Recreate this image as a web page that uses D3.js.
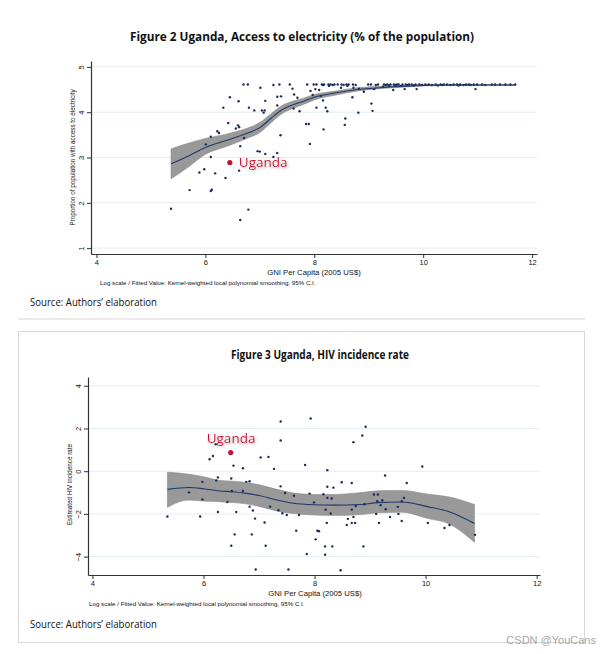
<!DOCTYPE html>
<html>
<head>
<meta charset="utf-8">
<script src="https://cdn.jsdelivr.net/npm/d3@7"></script>
<style>
  body { margin: 0; background: #fff; }
</style>
</head>
<body>
<svg id="chart" width="611" height="654" font-family="'Liberation Sans', Arial, sans-serif"></svg>
<script>
// ---- Figure 2: access to electricity (log) vs log GNI per capita ----
const elecX = [5.37,5.71,5.89,5.98,6.01,6.10,6.10,6.10,6.12,6.18,6.22,6.25,6.33,6.37,6.42,6.45,6.56,6.60,6.62,6.61,6.62,6.64,6.64,6.70,6.78,6.71,6.79,6.80,6.90,6.96,7.00,7.01,7.04,7.09,7.07,7.10,7.10,7.25,7.25,7.32,7.32,7.32,7.36,7.38,7.39,7.55,7.60,7.63,7.62,7.69,7.73,7.85,7.90,7.92,7.87,7.99,7.93,8.02,8.04,
  7.97,8.09,8.12,8.16,8.21,8.24,8.17,8.49,8.57,8.56,8.70,8.72,8.81,8.82,8.91,9.05,9.07,9.10,9.26,9.45,9.66,9.88,10.96,
  8.04,8.14,8.16,8.18,8.26,8.27,8.30,8.34,8.37,8.43,8.50,8.54,8.59,8.61,8.63,8.71,8.76,8.99,9.04,9.13,9.17,9.28,9.31,9.34,9.37,9.40,9.46,9.49,9.52,9.55,9.59,9.62,9.68,9.71,9.74,9.79,9.83,9.86,9.93,9.98,10.04,10.10,10.16,10.23,10.27,10.32,10.35,10.38,10.44,10.50,10.56,10.62,10.65,10.68,10.74,10.79,10.84,10.87,10.93,10.99,11.08,11.14,11.26,11.32,11.41,11.51,11.60,11.69];
const elecY = [1.87,2.28,2.67,2.74,3.29,3.46,3.01,2.26,2.29,2.65,3.58,3.54,4.10,2.55,3.76,4.33,3.64,3.71,3.67,4.24,2.71,3.25,1.62,4.61,4.61,3.43,1.85,4.10,4.04,3.14,3.13,4.54,4.04,4.04,3.99,3.08,4.25,3.01,4.60,4.34,4.15,3.10,4.61,3.49,4.35,4.61,4.52,4.39,4.08,4.32,4.02,3.74,3.74,3.30,4.61,4.61,4.47,4.51,4.10,
  4.38,4.49,4.36,4.26,4.10,4.02,3.62,4.54,3.86,3.72,4.33,4.54,3.99,4.52,4.45,4.19,4.03,4.51,4.56,4.49,4.51,4.51,4.51,
  4.61,4.61,4.60,4.61,4.61,4.58,4.61,4.60,4.61,4.61,4.61,4.60,4.61,4.58,4.61,4.61,4.60,4.61,4.61,4.60,4.61,4.61,4.60,4.61,4.59,4.61,4.61,4.60,4.61,4.61,4.58,4.61,4.61,4.60,4.61,4.61,4.59,4.61,4.61,4.60,4.61,4.61,4.60,4.61,4.59,4.61,4.60,4.61,4.61,4.60,4.61,4.61,4.59,4.61,4.60,4.61,4.61,4.60,4.61,4.61,4.61,4.60,4.61,4.61,4.61,4.61,4.61,4.61];
const elecFitX = [5.37,5.7,6.0,6.4,6.8,7.0,7.2,7.4,7.6,7.8,8.0,8.4,8.8,9.2,9.6,10.0,10.5,11.0,11.69];
const elecFit  = [2.86,3.04,3.22,3.38,3.55,3.66,3.86,4.05,4.16,4.24,4.33,4.43,4.50,4.54,4.57,4.59,4.60,4.60,4.60];
const elecLo   = [2.53,2.80,3.07,3.25,3.44,3.55,3.76,3.96,4.08,4.17,4.27,4.38,4.47,4.52,4.55,4.58,4.59,4.59,4.59];
const elecHi   = [3.19,3.32,3.42,3.52,3.66,3.77,3.96,4.14,4.24,4.31,4.39,4.47,4.54,4.57,4.59,4.61,4.61,4.61,4.61];
const elecYTicks = [1, 2, 3, 4, 5];
const ugandaElec = [6.45, 2.89];

// ---- Figure 3: HIV incidence rate (log) vs log GNI per capita ----
const hivX = [5.35,5.74,5.94,5.98,5.98,6.11,6.17,6.22,6.23,6.26,6.26,6.43,6.50,6.51,6.50,6.54,6.56,6.59,6.71,6.71,6.77,6.83,6.83,6.87,6.89,6.93,6.94,7.03,7.10,7.12,7.17,7.20,7.27,7.35,7.39,7.39,7.39,7.42,7.47,7.50,7.53,7.63,7.67,7.72,7.83,7.86,7.91,7.93,7.99,8.05,8.02,
  8.23,8.23,8.23,8.31,8.34,8.16,8.20,8.29,8.22,8.08,8.19,8.32,8.19,8.47,8.49,8.67,8.70,8.86,8.92,8.74,8.67,8.70,8.73,8.67,8.60,8.58,8.88,8.90,9.07,9.14,9.13,9.22,9.19,9.27,9.28,9.11,9.16,9.36,9.50,9.51,9.57,9.57,9.61,9.66,9.94,10.04,10.34,10.43,10.89];
const hivY = [-2.12,-0.99,-2.12,-0.50,-1.32,0.56,0.71,1.26,-0.43,-0.29,-1.91,-1.44,-0.34,-0.93,-3.49,0.26,-2.96,-1.91,0.14,-0.93,-0.50,-0.47,-1.66,-2.96,-1.84,-2.22,-4.60,0.64,-2.40,-3.49,0.67,-1.66,0.11,-1.83,2.33,1.44,-0.71,-1.97,-1.02,-2.05,-4.60,-1.15,-2.79,-2.05,0.29,-3.88,-1.05,2.47,-1.46,-2.79,-3.19,
  0.05,-0.73,-1.25,-1.28,-0.77,-1.08,-1.80,-1.98,-2.42,-2.81,-3.52,-3.52,-3.91,-4.64,-0.52,-0.55,1.36,1.67,2.08,-1.63,-1.80,-2.14,-2.42,-2.42,-2.23,-2.52,-3.52,-1.55,-1.09,-1.09,-1.41,-1.36,-1.59,-0.20,-1.78,-2.00,-2.42,-2.14,-1.67,-2.00,-2.33,-1.41,-1.25,-0.55,0.22,-2.42,-2.66,-2.52,-2.98];
const hivFitX = [5.35,5.74,6.0,6.29,6.53,6.77,7.02,7.32,7.62,7.98,8.36,8.84,9.14,9.57,10.05,10.41,10.88];
const hivFit  = [-0.85,-0.76,-0.82,-0.93,-0.96,-1.04,-1.15,-1.35,-1.50,-1.57,-1.59,-1.56,-1.47,-1.44,-1.67,-1.89,-2.45];
const hivLo   = [-1.69,-1.35,-1.40,-1.43,-1.47,-1.53,-1.66,-1.86,-1.98,-2.05,-2.07,-2.03,-1.95,-1.92,-2.22,-2.45,-3.33];
const hivHi   = [-0.05,-0.14,-0.26,-0.43,-0.47,-0.53,-0.65,-0.85,-1.02,-1.09,-1.09,-1.00,-0.92,-0.90,-1.08,-1.20,-1.56];
const hivYTicks = [-4, -2, 0, 2, 4];
const ugandaHiv = [6.49, 0.87];

const xTicks = [4, 6, 8, 10, 12];

const svg = d3.select("#chart");
svg.append("rect").attr("width", 611).attr("height", 654).attr("fill", "#fff");

const defs = svg.append("defs");
const shadow = defs.append("filter").attr("id", "shadow")
  .attr("x", "-20%").attr("y", "-40%").attr("width", "140%").attr("height", "180%");
shadow.append("feDropShadow").attr("dx", 1).attr("dy", 1.5).attr("stdDeviation", 1.5)
  .attr("flood-color", "#888").attr("flood-opacity", 0.6);

const calibri = "'Open Sans', 'Noto Sans', sans-serif";

function drawPanel(cfg) {
  const g = svg.append("g");
  const x = d3.scaleLinear().domain(cfg.xDomain).range(cfg.xRange);
  const y = d3.scaleLinear().domain(cfg.yDomain).range(cfg.yRange);

  // light horizontal grid
  g.selectAll("line.grid").data(cfg.yTicks).enter().append("line")
    .attr("class", "grid")
    .attr("x1", cfg.xRange[0]).attr("x2", cfg.xRange[1])
    .attr("y1", d => y(d)).attr("y2", d => y(d))
    .attr("stroke", "#e4eeef").attr("stroke-width", 1);

  const fit = cfg.fitX.map((v, i) => ({ x: v, f: cfg.fit[i], lo: cfg.lo[i], hi: cfg.hi[i] }));

  g.append("path").datum(fit)
    .attr("d", d3.area().x(d => x(d.x)).y0(d => y(d.lo)).y1(d => y(d.hi)).curve(d3.curveMonotoneX))
    .attr("fill", "#999").attr("stroke", "#888").attr("stroke-width", 0.6);

  g.selectAll("circle.pt").data(cfg.px).enter().append("circle")
    .attr("class", "pt")
    .attr("cx", d => x(d)).attr("cy", (d, i) => y(cfg.py[i]))
    .attr("r", 1.2).attr("fill", "#1c2a58");

  g.append("path").datum(fit)
    .attr("d", d3.line().x(d => x(d.x)).y(d => y(d.f)).curve(d3.curveMonotoneX))
    .attr("fill", "none").attr("stroke", "#1f3868").attr("stroke-width", 1.1);

  // highlighted country
  g.append("circle").attr("cx", x(cfg.hl[0])).attr("cy", y(cfg.hl[1]))
    .attr("r", 2.6).attr("fill", "#c8102e");
  g.append("text").attr("x", x(cfg.hl[0]) + cfg.hlDx).attr("y", y(cfg.hl[1]) + cfg.hlDy)
    .attr("font-family", calibri).attr("font-size", 13.5)
    .attr("fill", "#d0103a").attr("filter", "url(#shadow)")
    .text("Uganda");

  // axes
  const xa = g.append("g").attr("transform", `translate(0,${cfg.yRange[0]})`)
    .call(d3.axisBottom(x).tickValues(xTicks).tickFormat(d3.format("d"))
      .tickSize(4).tickSizeOuter(0).tickPadding(2));
  const ya = g.append("g").attr("transform", `translate(${cfg.xRange[0]},0)`)
    .call(d3.axisLeft(y).tickValues(cfg.yTicks).tickFormat(d3.format("d"))
      .tickSize(4).tickSizeOuter(0));
  [xa, ya].forEach(a => {
    a.attr("font-family", "'Liberation Sans', Arial, sans-serif").attr("font-size", 7.5);
    a.select(".domain").attr("stroke", "#333").attr("stroke-width", 1.2);
    a.selectAll(".tick line").attr("stroke", "#333");
    a.selectAll("text").attr("fill", "#111");
  });
  ya.selectAll("text")
    .attr("x", 0).attr("y", -7.5).attr("dy", 0)
    .attr("text-anchor", "middle").attr("transform", "rotate(-90)");

  // axis titles and note
  g.append("text").attr("x", cfg.xTitleX).attr("y", cfg.yRange[0] + 21)
    .attr("text-anchor", "middle").attr("font-size", 7.7).attr("fill", "#111")
    .text("GNI Per Capita (2005 US$)");
  g.append("text").attr("x", cfg.noteX).attr("y", cfg.yRange[0] + 31)
    .attr("font-size", 6.2).attr("fill", "#111")
    .text("Log scale / Fitted Value: Kernel-weighted local polynomial smoothing, 95% C.I.");
  g.append("text")
    .attr("transform", `translate(${cfg.yTitleX},${cfg.yTitleY}) rotate(-90)`)
    .attr("text-anchor", "middle").attr("font-size", 6.3).attr("fill", "#111")
    .text(cfg.yTitle);

  // figure title and source
  g.append("text").attr("x", cfg.titleX).attr("y", cfg.titleY)
    .attr("text-anchor", "middle").attr("font-family", calibri)
    .attr("font-weight", 700).attr("font-size", 12.5).attr("fill", "#111")
    .attr("textLength", cfg.titleLen).attr("lengthAdjust", "spacingAndGlyphs")
    .text(cfg.title);
  g.append("text").attr("x", 30).attr("y", cfg.sourceY)
    .attr("font-family", calibri).attr("font-size", 10).attr("fill", "#111")
    .attr("textLength", 127).attr("lengthAdjust", "spacingAndGlyphs")
    .text("Source: Authors\u2019 elaboration");
}

// frames of the two figure images
svg.append("line").attr("x1", 18).attr("x2", 585).attr("y1", 319).attr("y2", 319)
  .attr("stroke", "#d8d8d8").attr("stroke-width", 1);
svg.append("rect").attr("x", 18.5).attr("y", 331.5).attr("width", 566).attr("height", 311)
  .attr("fill", "none").attr("stroke", "#d8d8d8").attr("stroke-width", 1);

drawPanel({
  xDomain: [3.9, 12.09], xRange: [91, 537],
  yDomain: [0.87, 5.13], yRange: [254, 61],
  yTicks: elecYTicks, px: elecX, py: elecY,
  fitX: elecFitX, fit: elecFit, lo: elecLo, hi: elecHi,
  hl: ugandaElec, hlDx: 9, hlDy: 4.5,
  xTitleX: 314, noteX: 100, yTitleX: 75, yTitleY: 157.5,
  yTitle: "Proportion of population with access to electricity",
  title: "Figure 2 Uganda, Access to electricity (% of the population)",
  titleX: 302, titleY: 41, titleLen: 344, sourceY: 306
});

drawPanel({
  xDomain: [3.92, 12.06], xRange: [88, 540],
  yDomain: [-4.86, 4.41], yRange: [575, 377],
  yTicks: hivYTicks, px: hivX, py: hivY,
  fitX: hivFitX, fit: hivFit, lo: hivLo, hi: hivHi,
  hl: ugandaHiv, hlDx: -24, hlDy: -9.5,
  xTitleX: 315, noteX: 89, yTitleX: 72, yTitleY: 484.5,
  yTitle: "Estimated HIV incidence rate",
  title: "Figure 3 Uganda, HIV incidence rate",
  titleX: 320, titleY: 359, titleLen: 178, sourceY: 628
});

svg.append("text").attr("x", 596).attr("y", 644).attr("text-anchor", "end")
  .attr("font-size", 11).attr("fill", "#a8a8a8")
  .text("CSDN @YouCans");
</script>
</body>
</html>
